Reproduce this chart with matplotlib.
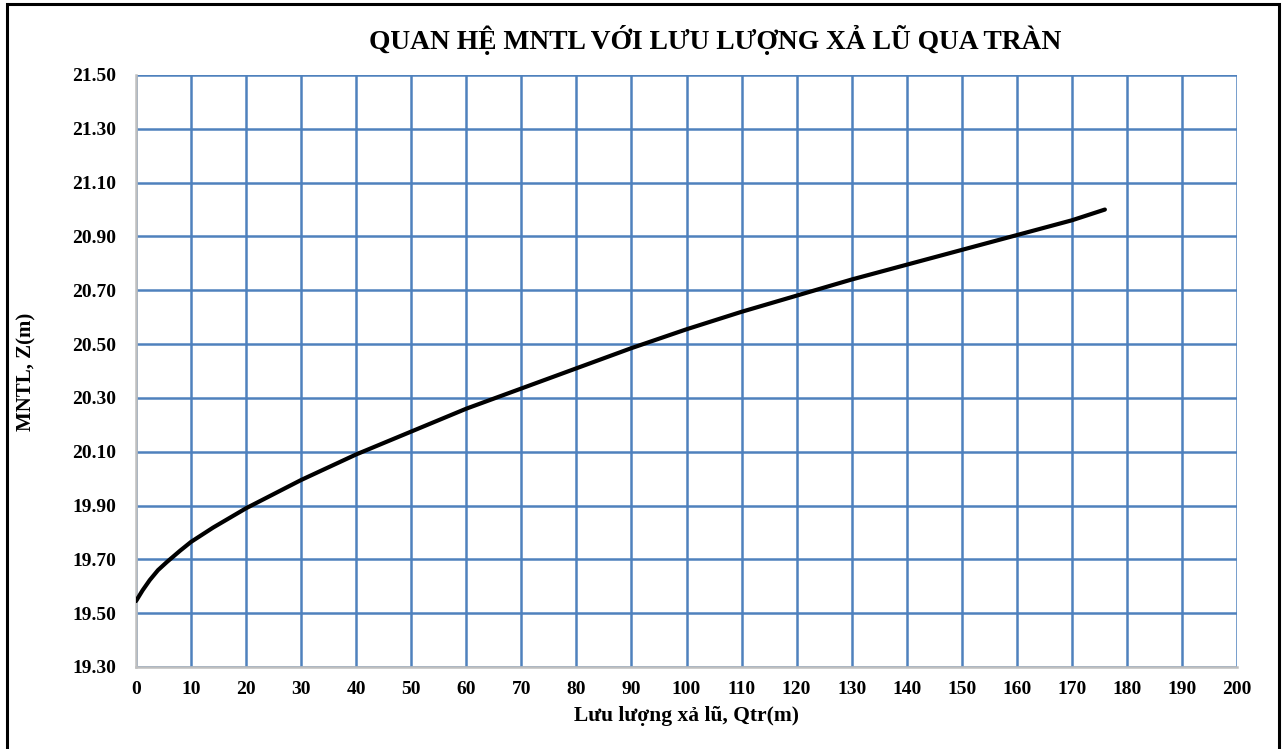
import matplotlib
matplotlib.use("Agg")
import matplotlib.pyplot as plt
from matplotlib.patches import Rectangle

# Data
q_values = [0, 1.2, 2.5, 4, 5.6, 8, 10, 14, 20, 30, 40, 50, 60, 70, 80, 90, 100,
            110, 120, 130, 140, 150, 160, 170, 176]
z_values = [19.545, 19.585, 19.623, 19.66, 19.69, 19.732, 19.765, 19.818, 19.89,
            19.995, 20.09, 20.175, 20.26, 20.335, 20.41, 20.485, 20.555, 20.62,
            20.68, 20.74, 20.795, 20.85, 20.905, 20.96, 21.00]

x_ticks = list(range(0, 201, 10))
y_ticks = [19.30, 19.50, 19.70, 19.90, 20.10, 20.30, 20.50, 20.70, 20.90, 21.10, 21.30, 21.50]

title = "QUAN HỆ MNTL VỚI LƯU LƯỢNG XẢ LŨ QUA TRÀN"
xlabel = "Lưu lượng xả lũ, Qtr(m)"
ylabel = "MNTL, Z(m)"

W, H = 1286, 749
fig = plt.figure(figsize=(W / 100, H / 100), dpi=100)
plt.rcParams['font.family'] = ['Liberation Serif', 'DejaVu Serif']

ax = fig.add_axes([136 / W, 1 - 667 / H, (1237 - 136) / W, (667 - 75) / H])
ax.set_xlim(0, 200)
ax.set_ylim(19.30, 21.50)
ax.set_xticks(x_ticks)
ax.set_yticks(y_ticks)
ax.set_yticklabels([f"{v:.2f}" for v in y_ticks])
ax.grid(True, color="#4F81BD", linewidth=1.8)
ax.set_axisbelow(True)
for s in ["top", "right"]:
    ax.spines[s].set_visible(False)
for s in ["left", "bottom"]:
    ax.spines[s].set_color("#BFBFBF")
    ax.spines[s].set_linewidth(1.8)
    ax.spines[s].set_zorder(3)
ax.tick_params(axis="x", length=0, labelsize=14, pad=10)
ax.tick_params(axis="y", length=0, labelsize=14, pad=14)
for lab in ax.get_xticklabels() + ax.get_yticklabels():
    lab.set_fontweight("bold")

ax.plot(q_values, z_values, color="black", linewidth=3, solid_capstyle="round",
        solid_joinstyle="round", zorder=4)

fig.text(715 / W, 1 - 40 / H, title, ha="center", va="center",
         fontsize=19.8, fontweight="bold")
fig.text(686 / W, 1 - 716 / H, xlabel, ha="center", va="center",
         fontsize=15.5, fontweight="bold")
fig.text(26 / W, 1 - 372 / H, ylabel, ha="center", va="center",
         fontsize=15, fontweight="bold", rotation=90)

fig.patches.append(Rectangle((7 / W, -0.01), (1279 - 7) / W, 1 - 4 / H + 0.01,
                             transform=fig.transFigure, fill=False,
                             edgecolor="black", linewidth=2.2))

fig.savefig("out.png", dpi=100)
